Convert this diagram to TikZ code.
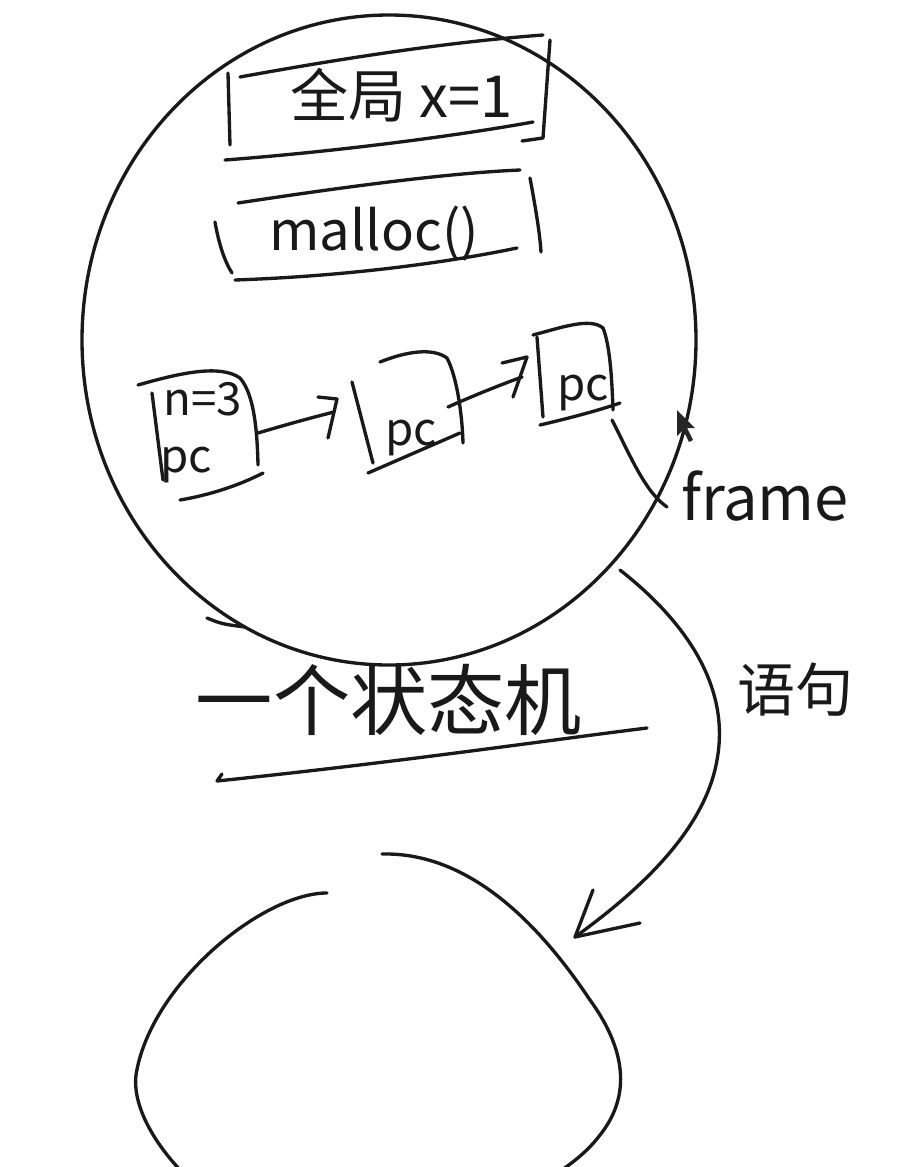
\documentclass[tikz,border=0pt]{standalone}
\usepackage{fontspec}
\newfontfamily\cjk{Noto Sans CJK SC}
\begin{document}
\begin{tikzpicture}[x=0.02cm,y=-0.02cm,
  pen/.style={line width=1.9pt,line cap=round,line join=round,draw=black!90},
  lbl/.style={inner sep=0pt,text=black!90},
  fs/.style={font=\cjk\fontsize{#1}{#1}\selectfont}
]
\useasboundingbox (0,0) rectangle (911,1167);
\fill[white] (0,0) rectangle (911,1167);

% big circle (one state)
\draw[pen] (389,340) ellipse [x radius=307, y radius=325];
\draw[pen] (207,618) .. controls (222,624) .. (245,627);

% box: global x=1
\node[lbl,fs=33] (global) at (402,95) {全局 x=1};
\draw[pen] (228,73) -- (230,145);
\draw[pen] (240,77) .. controls (350,57) and (450,42) .. (543,35);
\draw[pen] (225,160) .. controls (330,152) and (450,137) .. (533,122);
\draw[pen] (550,40) -- (543,138) -- (522,141);

% box: malloc()
\node[lbl,fs=31] (malloc) at (374,234) {malloc()};
\draw[pen] (238,203) .. controls (350,186) and (450,173) .. (520,170);
\draw[pen] (215,222) .. controls (219,245) and (225,262) .. (232,273);
\draw[pen] (235,280) .. controls (350,276) and (450,262) .. (517,248);
\draw[pen] (530,178) .. controls (536,210) and (540,235) .. (541,252);

% frame A
\node[lbl,fs=26] (n3) at (203,399) {n=3};
\node[lbl,fs=26] (pcA) at (186,465) {pc};
\draw[pen] (138,385) .. controls (180,373) and (220,364) .. (240,378) .. controls (252,392) and (257,420) .. (258,465);
\draw[pen] (152,393) -- (163,480);
\draw[pen] (180,500) .. controls (210,495) and (240,485) .. (263,473);

% frame B
\node[lbl,fs=26] (pcB) at (411,438) {pc};
\draw[pen] (380,362) .. controls (405,352) and (432,347) .. (447,358) .. controls (456,375) and (462,410) .. (463,443);
\draw[pen] (352,382) -- (373,463);
\draw[pen] (368,473) -- (460,433);

% frame C
\node[lbl,fs=26] (pcC) at (583,393) {pc};
\draw[pen] (533,335) .. controls (560,328) and (590,317) .. (603,328) .. controls (610,345) and (612,380) .. (613,410);
\draw[pen] (537,337) -- (543,417);
\draw[pen] (540,425) .. controls (570,418) and (600,410) .. (620,403);

% arrows between frames
\coordinate (a1s) at (258,433);
\coordinate (a1e) at (334,412);
\coordinate (a2s) at (448,407);
\coordinate (a2e) at (522,377);
\draw[pen] (a1s) .. controls (285,425) and (310,418) .. (a1e);
\draw[pen] ([shift={(-16,-15)}]a1e) -- ([shift={(3,-13)}]a1e) -- ([shift={(-6,26)}]a1e);
\draw[pen] (a2s) .. controls (475,395) and (500,385) .. (a2e);
\draw[pen] ([shift={(-20,-14)}]a2e) -- ([shift={(5,-20)}]a2e) -- ([shift={(-9,20)}]a2e);

% frame label
\node[lbl,fs=35] (frame) at (765,496) {frame};
\coordinate (fl) at (667,507);
\draw[pen] ([shift={(-55,-87)}]fl) .. controls (630,455) and (645,492) .. (fl);

% mouse cursor
\fill[black!85] (677,410) -- (677,436) -- (683,430) -- (689,442) -- (693,440) -- (687,428) -- (695,428) -- cycle;

% state machine label
\node[lbl,fs=44] (sm) at (389,700) {一个状态机};
\draw[pen] (222,774) -- (217,781) .. controls (400,762) and (550,740) .. (647,728);

% transition arrow
\node[lbl,fs=33] (yj) at (795,690) {语句};
\coordinate (c1) at (620,570);
\coordinate (c2) at (575,937);
\draw[pen] (c1) .. controls (690,625) and (730,690) .. (717,760) .. controls (705,830) and (640,890) .. (c2);
\draw[pen] ([shift={(18,-47)}]c2) -- (c2) -- ([shift={(65,-14)}]c2);

% next state (partial blob)
\draw[pen] (327,893) .. controls (262,893) and (150,985) .. (136,1075) .. controls (132,1110) and (160,1150) .. (185,1175);
\draw[pen] (382,854) .. controls (470,852) and (540,925) .. (590,1000) .. controls (630,1055) and (628,1100) .. (600,1135) .. controls (585,1155) and (565,1168) .. (550,1178);
\end{tikzpicture}
\end{document}
